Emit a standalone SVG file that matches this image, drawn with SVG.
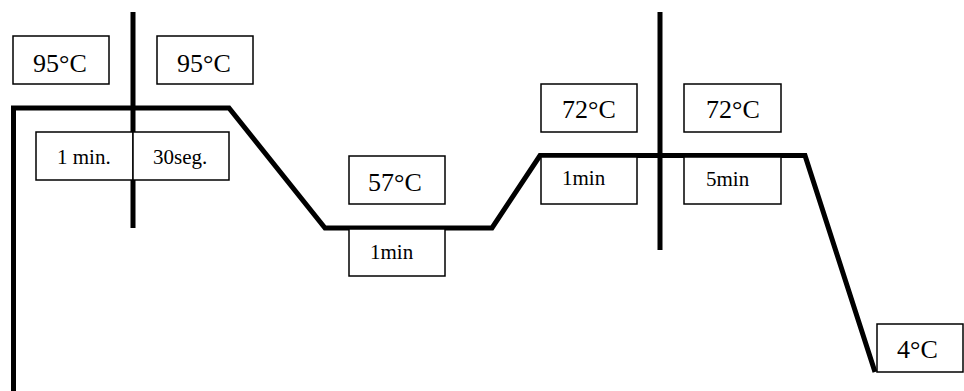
<svg xmlns="http://www.w3.org/2000/svg" width="964" height="391" viewBox="0 0 964 391">
<style>
.box{fill:#fff;stroke:#000;stroke-width:1.5}
.big{font-family:"Liberation Serif","Times New Roman",serif;font-size:26px;fill:#000}
.small{font-family:"Liberation Serif","Times New Roman",serif;font-size:21px;fill:#000}
.thick{fill:none;stroke:#000;stroke-width:5;stroke-linejoin:miter}
</style>
<rect width="964" height="391" fill="#fff"/>
<g id="connectors">
<polyline class="thick" points="13.5,391 13.5,108 229,108 325,228 492,228 540,155.5 805,155.5 875,372"/>
<line class="thick" x1="133" y1="12" x2="133" y2="228"/>
<line class="thick" x1="660" y1="12" x2="660" y2="250"/>
</g>
<g id="t95a"><rect class="box" x="13" y="36" width="96" height="48"/><text class="big" x="33" y="72">95°C</text></g>
<g id="t95b"><rect class="box" x="157" y="36" width="96" height="48"/><text class="big" x="177" y="72">95°C</text></g>
<g id="d1min"><rect class="box" x="36" y="132" width="97" height="48"/><text class="small" x="57" y="164">1 min.</text></g>
<g id="d30seg"><rect class="box" x="133" y="132" width="96" height="48"/><text class="small" x="153" y="164">30seg.</text></g>
<g id="t57"><rect class="box" x="349" y="156" width="96" height="48"/><text class="big" x="368" y="191">57°C</text></g>
<g id="d57"><rect class="box" x="349" y="229" width="96" height="47"/><text class="small" x="370" y="259">1min</text></g>
<g id="t72a"><rect class="box" x="541" y="84" width="96" height="48"/><text class="big" x="562" y="118">72°C</text></g>
<g id="t72b"><rect class="box" x="684" y="84" width="97" height="48"/><text class="big" x="706" y="118">72°C</text></g>
<g id="d72a"><rect class="box" x="541" y="157" width="96" height="47"/><text class="small" x="562" y="185">1min</text></g>
<g id="d72b"><rect class="box" x="684" y="157" width="97" height="47"/><text class="small" x="706" y="186">5min</text></g>
<g id="t4"><rect class="box" x="877" y="324" width="86" height="48"/><text class="big" x="897" y="358">4°C</text></g>
</svg>
